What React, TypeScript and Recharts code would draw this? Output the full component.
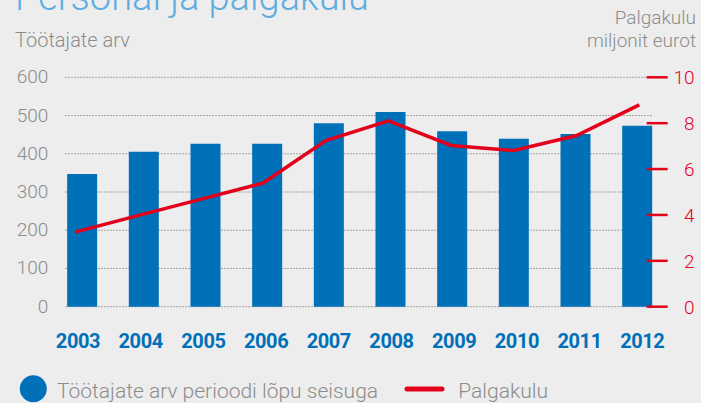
import { Bar, CartesianGrid, ComposedChart, Line, XAxis, YAxis } from "recharts";

const years = ["2003", "2004", "2005", "2006", "2007", "2008", "2009", "2010", "2011", "2012"];
const employees = [347, 405, 426, 426, 480, 509, 459, 439, 452, 473];
const payroll = [3.25, 3.97, 4.68, 5.39, 7.24, 8.1, 7.03, 6.81, 7.46, 8.8];
const leftTicks = [0, 100, 200, 300, 400, 500, 600];
const rightTicks = [0, 2, 4, 6, 8, 10];

const BLUE = "#0070b8";
const RED = "#e3001b";
const GRAY = "#8c8c8c";
const FONT = "Roboto, sans-serif";

const data = years.map((year, i) => ({ year, employees: employees[i], payroll: payroll[i] }));

function LeftTick({ x, y, payload }: any) {
  return (
    <text x={x + 4.7} y={y} dy={6} textAnchor="end" fill={GRAY} fontSize={19} fontWeight={300} fontFamily={FONT}>
      {payload.value}
    </text>
  );
}

function RightTick({ x, y, payload }: any) {
  return (
    <g>
      <line x1={x - 24} x2={x - 3} y1={y} y2={y} stroke={RED} strokeWidth={2.5} />
      <text x={x + 24} y={y} dy={7} textAnchor="end" fill={RED} fontSize={19} fontWeight={300} fontFamily={FONT}>
        {payload.value}
      </text>
    </g>
  );
}

function YearTick({ x, y, payload }: any) {
  return (
    <text x={x + 3} y={y + 11} textAnchor="middle" fill={BLUE} fontSize={20} fontWeight={700} fontFamily={FONT} letterSpacing={-0.4}>
      {payload.value}
    </text>
  );
}

export default function App() {
  return (
    <div style={{ position: "absolute", left: 0, top: 0, width: 701, height: 403, background: "#ededed", overflow: "hidden" }}>
      <ComposedChart width={701} height={403} data={data} margin={{ top: 77.3, right: 0, bottom: 0, left: 0 }}>
        <CartesianGrid
          yAxisId="left"
          xAxisId="line"
          vertical={false}
          x={65}
          width={588}
          stroke="#a3a3a3"
          strokeDasharray="2 1"
        />
        <XAxis xAxisId="bar" dataKey="year" hide padding={{ left: 7.5, right: 2.8 }} />
        <XAxis
          xAxisId="line"
          dataKey="year"
          height={96.3}
          axisLine={false}
          tickLine={false}
          tickSize={0}
          tickMargin={0}
          interval={0}
          tick={<YearTick />}
        />
        <YAxis
          yAxisId="left"
          width={43.65}
          domain={[0, 600]}
          ticks={leftTicks}
          axisLine={false}
          tickLine={false}
          tickSize={0}
          tickMargin={0}
          tick={<LeftTick />}
        />
        <YAxis
          yAxisId="right"
          orientation="right"
          width={30.35}
          domain={[0, 10]}
          ticks={rightTicks}
          axisLine={false}
          tickLine={false}
          tickSize={0}
          tickMargin={0}
          tick={<RightTick />}
        />
        <Bar xAxisId="bar" yAxisId="left" dataKey="employees" fill={BLUE} barSize={30} isAnimationActive={false} />
        <Line
          xAxisId="line"
          yAxisId="right"
          dataKey="payroll"
          stroke={RED}
          strokeWidth={3.5}
          dot={false}
          activeDot={false}
          type="linear"
          isAnimationActive={false}
        />
      </ComposedChart>
      <svg width={701} height={403} style={{ position: "absolute", left: 0, top: 0, pointerEvents: "none" }} fontFamily={FONT}>
        <text x={15} y={10} fill="#5eaee2" fontSize={38} fontWeight={300}>
          Personal ja palgakulu
        </text>
        <text x={15} y={46.5} fill={GRAY} fontSize={20} fontWeight={300}>
          Töötajate arv
        </text>
        <text x={696} y={24} fill={GRAY} fontSize={19} fontWeight={300} textAnchor="end">
          Palgakulu
        </text>
        <text x={696} y={46.5} fill={GRAY} fontSize={19} fontWeight={300} textAnchor="end">
          miljonit eurot
        </text>
        <circle cx={33.3} cy={388.7} r={13.5} fill={BLUE} />
        <text x={57} y={397.5} fill={GRAY} fontSize={21} fontWeight={300}>
          Töötajate arv perioodi lõpu seisuga
        </text>
        <line x1={407} x2={442} y1={389} y2={389} stroke={RED} strokeWidth={5} strokeLinecap="round" />
        <text x={458.3} y={397.5} fill={GRAY} fontSize={21} fontWeight={300}>
          Palgakulu
        </text>
      </svg>
    </div>
  );
}
